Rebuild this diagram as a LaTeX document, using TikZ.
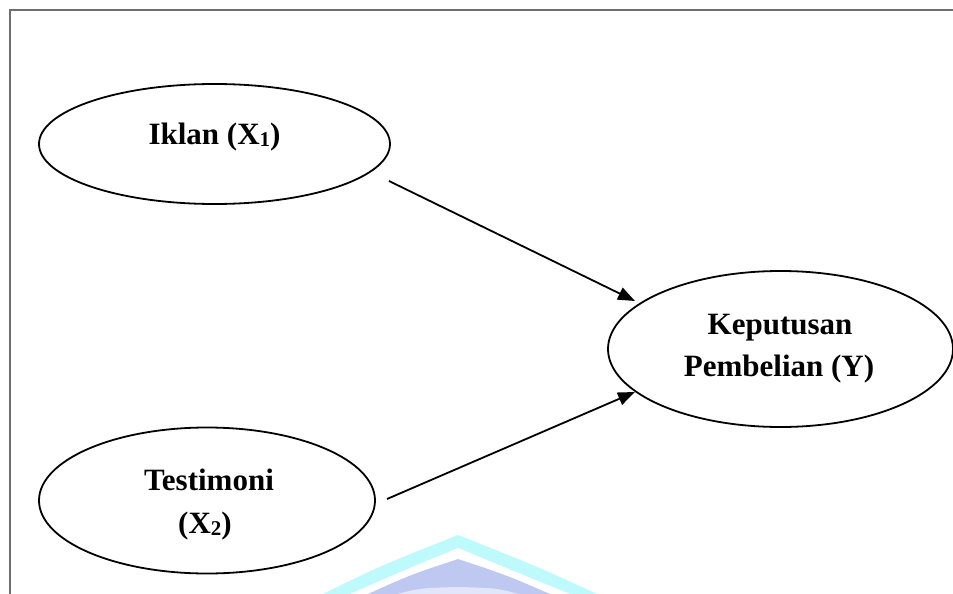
\documentclass[tikz,border=0pt]{standalone}
\usepackage{fontspec}
\setmainfont{Liberation Serif}
\usetikzlibrary{shapes.geometric,arrows.meta}
\definecolor{framegray}{RGB}{110,110,110}
\definecolor{wmcyan}{RGB}{190,250,252}
\definecolor{wmlav}{RGB}{190,200,240}
\definecolor{wmpale}{RGB}{225,230,250}
\begin{document}
\begin{tikzpicture}[x=1pt,y=-1pt,
  var/.style={draw=black,line width=1.8pt,ellipse,inner sep=0pt,fill=none},
  lbl/.style={anchor=base,inner sep=0pt,font=\fontsize{31}{31}\selectfont\bfseries},
  conn/.style={line width=1.8pt,-{Triangle[length=17pt,width=13pt]}}]
\useasboundingbox (0,0) rectangle (953,594);
\fill[white] (0,0) rectangle (953,594);
% watermark
\fill[wmcyan] (323,594) .. controls (380,566) .. (458,535) .. controls (536,566) .. (597,594) -- cycle;
\fill[white] (350,594) .. controls (400,572) .. (458,548) .. controls (516,572) .. (570,594) -- cycle;
\fill[wmlav] (368,594) .. controls (410,575) .. (458,559) .. controls (506,575) .. (550,594) -- cycle;
\fill[wmpale] (393,595) .. controls (420,588) .. (458,587) .. controls (496,588) .. (523,595) -- cycle;
% frame
\draw[framegray,line width=1.6pt] (953,10) -- (10,10) -- (10,594);
% variables
\node[var,minimum width=351pt,minimum height=120pt] (ik) at (214.5,144) {};
\node[var,minimum width=336pt,minimum height=146pt] (ts) at (207,500.5) {};
\node[var,minimum width=345pt,minimum height=156pt] (kp) at (780.5,349) {};
% texts
\node[lbl] (ikt) at (214.5,144) {Iklan (X\raisebox{-2.5pt}{\fontsize{21}{21}\selectfont 1})};
\node[lbl] (tst1) at (209,490.7) {Testimoni};
\node[lbl] (tst2) at (205,533) {(X\raisebox{-2.5pt}{\fontsize{21}{21}\selectfont 2})};
\node[lbl] (kpt1) at (780,334) {Keputusan};
\node[lbl] (kpt2) at (779,376.7) {Pembelian (Y)};
% connectors
\coordinate (a1s) at (389,181);
\coordinate (a1e) at (635,301);
\coordinate (a2s) at (387,499);
\coordinate (a2e) at (635,392);
\draw[conn] (a1s) -- (a1e);
\draw[conn] (a2s) -- (a2e);
\end{tikzpicture}
\end{document}
